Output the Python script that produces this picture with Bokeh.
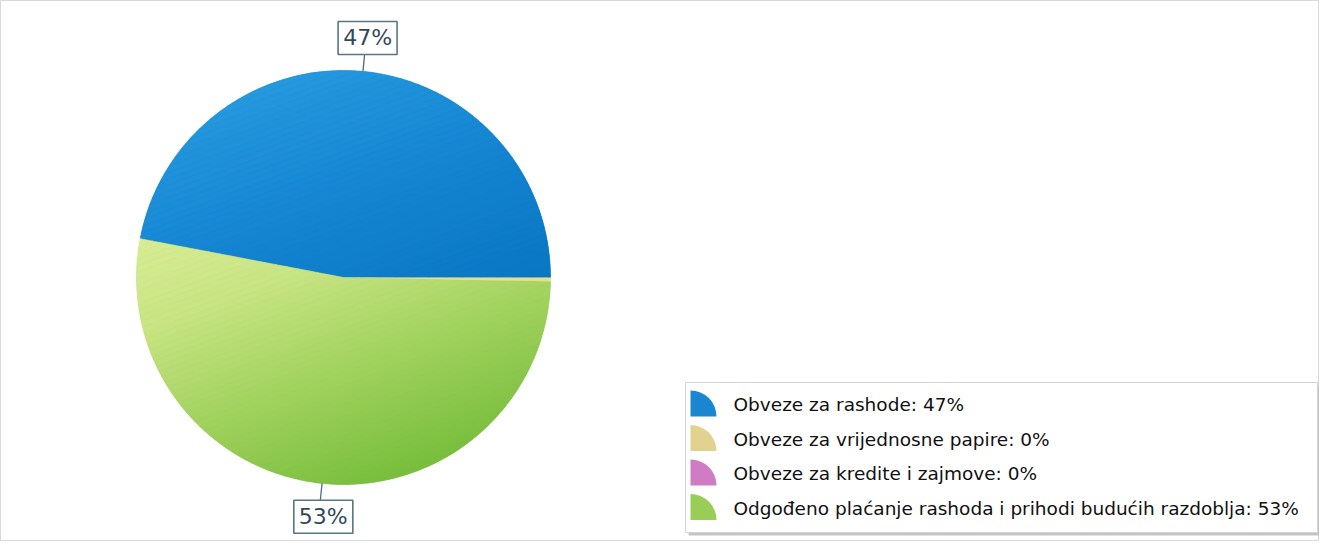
import numpy as np
from bokeh.plotting import figure
from bokeh.models import Range1d
from bokeh.embed import file_html
from bokeh.resources import INLINE
from bokeh.core.properties import value

# ---------------- data ----------------
categories = [
    "Obveze za rashode",
    "Obveze za vrijednosne papire",
    "Obveze za kredite i zajmove",
    "Odgođeno plaćanje rashoda i prihodi budućih razdoblja",
]
shares = [47.0, 0.3, 0.0, 52.7]
pct_labels = ["47%", "0%", "0%", "53%"]
colors = ["#1787d3", "#e6dd8e", "#d27cc4", "#9fcf5c"]
icon_colors = ["#1a86d0", "#e2d28f", "#cf7cc2", "#9acd58"]
# gradient stops (t along a diagonal across the whole pie)
grad_stops = [
    [(0.0, "#2598de"), (0.3, "#1686d2"), (0.65, "#0a77c3")],
    None,
    None,
    [(0.2, "#dbee98"), (0.45, "#c8e483"), (0.7, "#a3d260"), (1.0, "#78be3c")],
]

# ---------------- layout ----------------
W, H = 1319, 541
def sx(X):
    return X - 8
def sy(Y):
    return 549 - Y

p = figure(width=W, height=H, x_range=Range1d(0, W), y_range=Range1d(0, H),
           output_backend="svg", toolbar_location=None, min_border=0)
p.axis.visible = False
p.grid.visible = False
p.outline_line_color = "#d9d9d9"
p.background_fill_color = "white"

cx, cy, R = sx(351), sy(285), 207.0
total = sum(shares)
S = 2 * np.pi * shares[0] / total
cum = np.concatenate([[0], np.cumsum(shares)])
starts = [S - 2 * np.pi * cum[i + 1] / total for i in range(len(shares))]
ends = [S - 2 * np.pi * cum[i] / total for i in range(len(shares))]

idx = [i for i in range(len(shares)) if shares[i] > 0]
p.wedge(x=[cx] * len(idx), y=[cy] * len(idx), radius=R,
        start_angle=[starts[i] for i in idx], end_angle=[ends[i] for i in idx],
        fill_color=[colors[i] for i in idx], line_color=None)

# ---- gradient shading overlay ----
def hex2rgb(h):
    return np.array([int(h[1:3], 16), int(h[3:5], 16), int(h[5:7], 16)], float)

def interp(stops, t):
    if t <= stops[0][0]:
        return stops[0][1]
    for (t0, c0), (t1, c1) in zip(stops[:-1], stops[1:]):
        if t <= t1:
            f = (t - t0) / (t1 - t0)
            c = hex2rgb(c0) * (1 - f) + hex2rgb(c1) * f
            return "#%02x%02x%02x" % tuple(int(round(v)) for v in c)
    return stops[-1][1]

def clip_half(pts, nx, ny, c):
    out = []
    n = len(pts)
    for k in range(n):
        a = pts[k]
        b = pts[(k + 1) % n]
        da = nx * a[0] + ny * a[1] - c
        db = nx * b[0] + ny * b[1] - c
        if da >= 0:
            out.append(a)
        if (da >= 0) != (db >= 0):
            f = da / (da - db)
            out.append((a[0] + f * (b[0] - a[0]), a[1] + f * (b[1] - a[1])))
    return out

d = np.array([0.35, -0.94])
d = d / np.linalg.norm(d)
pc = d[0] * cx + d[1] * cy
NB = 70
gx, gy, gc = [], [], []
for i in idx:
    stops = grad_stops[i]
    if stops is None:
        continue
    a0, a1 = starts[i], ends[i]
    n = max(3, int(abs(a1 - a0) / 0.01))
    ang = np.linspace(a0, a1, n)
    poly = [(cx, cy)] + list(zip(cx + R * np.cos(ang), cy + R * np.sin(ang)))
    for b in range(NB):
        t0, t1 = b / NB, (b + 1) / NB
        c0 = pc - R + 2 * R * t0
        c1 = pc - R + 2 * R * t1
        q = clip_half(poly, d[0], d[1], c0)
        if len(q) < 3:
            continue
        q = clip_half(q, -d[0], -d[1], -c1)
        if len(q) < 3:
            continue
        gx.append([pt[0] for pt in q])
        gy.append([pt[1] for pt in q])
        gc.append(interp(stops, (t0 + t1) / 2))
p.patches(xs=gx, ys=gy, fill_color=gc, line_color=gc, line_width=0.6)

# small slices on top again so they remain visible
for i in idx:
    if grad_stops[i] is None:
        p.wedge(x=cx, y=cy, radius=R, start_angle=starts[i], end_angle=ends[i],
                fill_color=colors[i], line_color=None)

# ---- slice labels ----
for i in idx:
    if shares[i] < 1:
        continue
    mid = (starts[i] + ends[i]) / 2
    ex, ey = cx + R * np.cos(mid), cy + R * np.sin(mid)
    lx, ly = cx + (R + 17) * np.cos(mid), cy + (R + 17) * np.sin(mid)
    p.line([ex, lx], [ey, ly], line_color="#4f6b7a", line_width=1.3)
    by = ly + (16.5 if np.sin(mid) > 0 else -16.5)
    p.rect(x=lx + 3, y=by, width=59, height=33, width_units="screen", height_units="screen",
           fill_color="white", line_color="#587684", line_width=1.6)
    p.text(x=[lx + 3], y=[by], text=[pct_labels[i]], text_font=value("DejaVu Sans"),
           text_font_size="22px", text_color="#33495a", text_align="center",
           text_baseline="middle")

# ---- legend ----
LX0, LX1, LY0, LY1 = 693, 1325, 390, 540
p.rect(x=sx((LX0 + LX1) / 2) + 3, y=sy((LY0 + LY1) / 2) - 3, width=LX1 - LX0, height=LY1 - LY0,
       fill_color="#c4c4c4", line_color=None)
p.rect(x=sx((LX0 + LX1) / 2), y=sy((LY0 + LY1) / 2), width=LX1 - LX0, height=LY1 - LY0,
       fill_color="white", line_color="#d4d4d4", line_width=1)
row_y = [412, 446.5, 481, 515.5]
leg_text = [f"{c}: {l}" for c, l in zip(categories, pct_labels)]
p.wedge(x=[sx(698)] * 4, y=[sy(Y + 12) for Y in row_y], radius=26,
        start_angle=0, end_angle=np.pi / 2, fill_color=icon_colors, line_color=None)
p.text(x=[sx(741)] * 4, y=[sy(Y) for Y in row_y], text=leg_text,
       text_font=value("DejaVu Sans"), text_font_size="18.5px", text_color="#111111",
       text_align="left", text_baseline="middle")

open("out.html", "w").write(file_html(p, INLINE))
